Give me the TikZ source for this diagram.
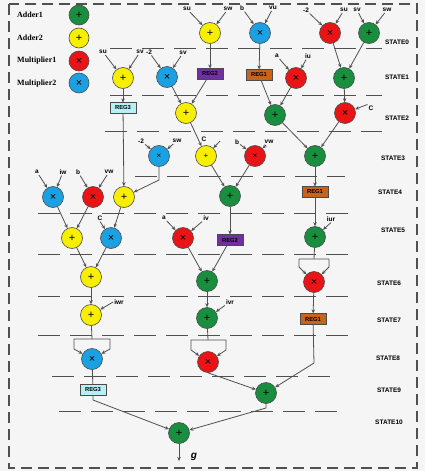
\documentclass[tikz,border=0pt]{standalone}
\usepackage{fontspec}
\setmainfont{Liberation Serif}
\setsansfont{Liberation Sans}
\usetikzlibrary{arrows.meta}
\definecolor{bgc}{RGB}{245,245,245}
\definecolor{cgrn}{RGB}{24,142,62}
\definecolor{cyel}{RGB}{247,238,0}
\definecolor{cred}{RGB}{232,20,22}
\definecolor{cblu}{RGB}{27,161,226}
\definecolor{cpur}{RGB}{112,48,160}
\definecolor{cora}{RGB}{198,100,30}
\definecolor{ccya}{RGB}{180,240,245}
\definecolor{edge}{RGB}{75,75,75}
\definecolor{lnc}{RGB}{80,80,80}
\begin{document}
\begin{tikzpicture}[x=1pt,y=-1pt,
  op/.style={circle,draw=edge,line width=0.6pt,minimum size=21pt,inner sep=0pt,font=\sffamily\fontsize{11}{11}\selectfont},
  smallsym/.style={font=\sffamily\fontsize{8}{8}\selectfont},
  ga/.style={op,fill=cgrn},
  ya/.style={op,fill=cyel},
  rm/.style={op,fill=cred},
  bm/.style={op,fill=cblu},
  reg/.style={draw=edge,line width=0.6pt,minimum width=26pt,minimum height=10.5pt,inner sep=0pt,font=\sffamily\bfseries\fontsize{5.8}{6}\selectfont},
  inl/.style={inner sep=1pt,font=\sffamily\bfseries\fontsize{6.5}{7}\selectfont},
  stl/.style={inner sep=0pt,font=\sffamily\bfseries\fontsize{6.5}{7}\selectfont},
  legt/.style={anchor=west,inner sep=0pt,font=\bfseries\fontsize{8}{9}\selectfont},
  ln/.style={draw=lnc,line width=0.8pt},
  ia/.style={ln,-{Stealth[length=4pt,width=3.5pt]}},
  sep/.style={draw=lnc,line width=1pt,dash pattern=on 22pt off 10pt},
  frm/.style={draw=lnc,line width=1.3pt,dash pattern=on 11pt off 6pt}
]
\useasboundingbox (0,0) rectangle (425,471);
\fill[bgc] (0,0) rectangle (425,471);
\draw[frm] (9,4) rectangle (417,468);

% legend
\node[ga,minimum size=20pt] (L1) at (79,15) {+};
\node[ya,minimum size=20pt] (L2) at (79,38) {+};
\node[rm,minimum size=20pt] (L3) at (79,61) {×};
\node[bm,minimum size=20pt] (L4) at (79,83) {×};
\node[legt] (T1) at (17,15) {Adder1};
\node[legt] (T2) at (17,38) {Adder2};
\node[legt] (T3) at (17,61) {Multiplier1};
\node[legt] (T4) at (17,84) {Multiplier2};

% separators
\draw[sep] (110,48) -- (382,48);
\draw[sep] (110,95) -- (382,95);
\draw[sep] (105,131) -- (382,131);
\draw[sep] (135,176) -- (345,176);
\draw[sep] (38,213) -- (357,213);
\draw[sep] (38,254) -- (357,254);
\draw[sep] (38,296) -- (352,296);
\draw[sep] (38,335) -- (352,335);
\draw[sep] (52,376) -- (338,376);
\draw[sep] (59,411) -- (346,411);

% state labels
\node[stl] (S0) at (397,42) {STATE0};
\node[stl] (S1) at (397,77) {STATE1};
\node[stl] (S2) at (397,118) {STATE2};
\node[stl] (S3) at (393,158) {STATE3};
\node[stl] (S4) at (390,192) {STATE4};
\node[stl] (S5) at (393,230) {STATE5};
\node[stl] (S6) at (389,283) {STATE6};
\node[stl] (S7) at (389,320) {STATE7};
\node[stl] (S8) at (388,358) {STATE8};
\node[stl] (S9) at (389,390) {STATE9};
\node[stl] (S10) at (389,422) {STATE10};

% STATE0
\node[ya] (y0) at (210,33) {+};
\node[bm] (b0) at (260,33) {×};
\node[rm] (r0) at (330,33) {×};
\node[ga] (g0) at (369,33) {+};
\node[inl] (y0a) at (187,9) {su};
\node[inl] (y0b) at (228,9) {sw};
\node[inl] (b0a) at (242,8) {b};
\node[inl] (b0b) at (273,8) {vu};
\node[inl] (r0a) at (306,10) {-2};
\node[inl] (r0b) at (344,10) {su};
\node[inl] (g0a) at (357,10) {sv};
\node[inl] (g0b) at (387,10) {sw};
\foreach \a/\b in {y0a/y0,y0b/y0,b0a/b0,b0b/b0,r0a/r0,r0b/r0,g0a/g0,g0b/g0}
  \draw[ia] (\a) -- (\b);

% STATE1
\node[ya] (y1) at (123,78) {+};
\node[bm] (b1) at (167,77) {×};
\node[reg,fill=cpur] (R2a) at (210,74) {REG2};
\node[reg,fill=cora] (R1a) at (259,75) {REG1};
\node[rm] (r1) at (296,78) {×};
\node[ga] (g1) at (344,78) {+};
\node[inl] (y1a) at (103,52) {su};
\node[inl] (y1b) at (140,52) {sv};
\node[inl] (b1a) at (149,52) {-2};
\node[inl] (b1b) at (183,53) {sv};
\node[inl] (r1a) at (277,56) {a};
\node[inl] (r1b) at (308,56) {iu};
\foreach \a/\b in {y1a/y1,y1b/y1,b1a/b1,b1b/b1,r1a/r1,r1b/r1}
  \draw[ia] (\a) -- (\b);
\draw[ia] (y0) -- (R2a);
\draw[ia] (b0) -- (R1a);
\draw[ia] (r0) -- (g1);
\draw[ia] (g0) -- (g1);

% STATE2
\node[reg,fill=ccya] (R3a) at (123,108) {REG3};
\node[ya] (y2) at (186,113) {+};
\node[ga] (g2) at (275,115) {+};
\node[rm] (r2) at (345,113) {×};
\node[inl] (c2) at (371,108) {C};
\draw[ia] (y1) -- (R3a);
\draw[ia] (b1) -- (y2);
\draw[ia] (R2a) -- (y2);
\draw[ia] (R1a) -- (g2);
\draw[ia] (r1) -- (g2);
\draw[ia] (g1) -- (r2);
\draw[ia] (c2.north west) -- (r2);

% STATE3
\node[bm,smallsym] (b3) at (159,156) {×};
\node[ya,smallsym] (y3) at (206,156) {+};
\node[rm,smallsym] (r3) at (255,156) {×};
\node[ga] (g3) at (315,156) {+};
\node[inl] (b3a) at (141,141) {-2};
\node[inl] (b3b) at (177,141) {sw};
\node[inl] (c3) at (204,139) {C};
\coordinate (c3s) at (220,141);
\node[inl] (r3a) at (237,142) {b};
\node[inl] (r3b) at (269,142) {vw};
\foreach \a/\b in {b3a/b3,b3b/b3,r3a/r3,r3b/r3}
  \draw[ia] (\a) -- (\b);
\draw[ia] (c3s) -- (y3);
\draw[ia] (y2) -- (y3);
\draw[ia] (g2) -- (g3);
\draw[ia] (r2) -- (g3);

% STATE4
\node[bm] (b4) at (53,197) {×};
\node[rm] (r4) at (93,197) {×};
\node[ya] (y4) at (124,197) {+};
\node[ga] (g4) at (230,196) {+};
\node[reg,fill=cora] (R1b) at (315,192) {REG1};
\node[inl] (b4a) at (37,172) {a};
\node[inl] (b4b) at (63,172) {iw};
\node[inl] (r4a) at (78,172) {b};
\node[inl] (r4b) at (109,172) {vw};
\foreach \a/\b in {b4a/b4,b4b/b4,r4a/r4,r4b/r4}
  \draw[ia] (\a) -- (\b);
\coordinate (c4) at (159,180);
\draw[ia] (R3a) -- (y4);
\draw[ia] (b3) -- (c4) -- (y4);
\draw[ia] (y3) -- (g4);
\draw[ia] (r3) -- (g4);
\draw[ia] (g3) -- (R1b);

% STATE5
\node[ya] (y5) at (72,238) {+};
\node[bm] (b5) at (111,238) {×};
\node[rm] (r5) at (183,238) {×};
\node[reg,fill=cpur] (R2b) at (230,240) {REG2};
\node[ga] (g5) at (315,237) {+};
\node[inl] (c5) at (100,218) {C};
\node[inl] (r5a) at (164,218) {a};
\node[inl] (r5b) at (206,218) {iv};
\node[inl] (g5a) at (331,219) {iur};
\draw[ia] (c5.south) -- (b5);
\draw[ia] (r5a) -- (r5);
\draw[ia] (r5b.south west) -- (r5);
\draw[ia] (g5a.south) -- (g5);
\draw[ia] (b4) -- (y5);
\draw[ia] (r4) -- (y5);
\draw[ia] (y4) -- (b5);
\draw[ia] (g4) -- (R2b);
\draw[ia] (R1b) -- (g5);

% STATE6
\node[ya] (y6) at (91,277) {+};
\node[ga] (g6) at (207,281) {+};
\node[rm] (r6) at (314,282) {×};
\draw[ia] (y5) -- (y6);
\draw[ia] (b5) -- (y6);
\draw[ia] (r5) -- (g6);
\draw[ia] (R2b) -- (g6);
\coordinate (f6) at (314,259);
\coordinate (f6l) at (299,259);
\coordinate (f6r) at (329,259);
\coordinate (f6ld) at (299,267);
\coordinate (f6rd) at (329,267);
\draw[ln] (g5) -- (f6);
\draw[ia] (f6) -- (f6l) -- (f6ld) -- (r6);
\draw[ia] (f6) -- (f6r) -- (f6rd) -- (r6);

% STATE7
\node[ya] (y7) at (91,315) {+};
\node[ga] (g7) at (207,318) {+};
\node[reg,fill=cora] (R1c) at (313,319) {REG1};
\node[inl] (y7a) at (119,302) {iwr};
\node[inl] (g7a) at (230,302) {ivr};
\draw[ia] (y7a.west) -- (y7);
\draw[ia] (g7a.south west) -- (g7);
\draw[ia] (y6) -- (y7);
\draw[ia] (g6) -- (g7);
\draw[ia] (r6) -- (R1c);

% STATE8
\node[bm] (b8) at (92,359) {×};
\node[rm] (r8) at (208,362) {×};
\coordinate (f8) at (92,339);
\coordinate (f8l) at (74,339);
\coordinate (f8r) at (110,339);
\coordinate (f8ld) at (74,349);
\coordinate (f8rd) at (110,349);
\draw[ln] (y7) -- (f8);
\draw[ia] (f8) -- (f8l) -- (f8ld) -- (b8);
\draw[ia] (f8) -- (f8r) -- (f8rd) -- (b8);
\coordinate (h8) at (208,340);
\coordinate (h8l) at (191,340);
\coordinate (h8r) at (226,340);
\coordinate (h8ld) at (191,350);
\coordinate (h8rd) at (226,350);
\draw[ln] (g7) -- (h8);
\draw[ia] (h8) -- (h8l) -- (h8ld) -- (r8);
\draw[ia] (h8) -- (h8r) -- (h8rd) -- (r8);

% STATE9
\node[reg,fill=ccya] (R3b) at (93,390) {REG3};
\node[ga] (g9) at (266,393) {+};
\coordinate (c9) at (314,363);
\draw[ln] (b8) -- (R3b);
\draw[ia] (r8.south) -- (g9);
\draw[ia] (R1c) -- (c9) -- (g9);

% STATE10
\node[ga] (g10) at (179,433) {+};
\coordinate (c10a) at (93,400);
\coordinate (c10b) at (266,408);
\coordinate (cg) at (179,461);
\node[inner sep=0pt,font=\sffamily\bfseries\itshape\fontsize{10}{10}\selectfont] (gl) at (194,457) {g};
\draw[ia] (R3b) -- (c10a) -- (g10);
\draw[ia] (g9) -- (c10b) -- (g10);
\draw[ia] (g10) -- (cg);
\end{tikzpicture}
\end{document}
